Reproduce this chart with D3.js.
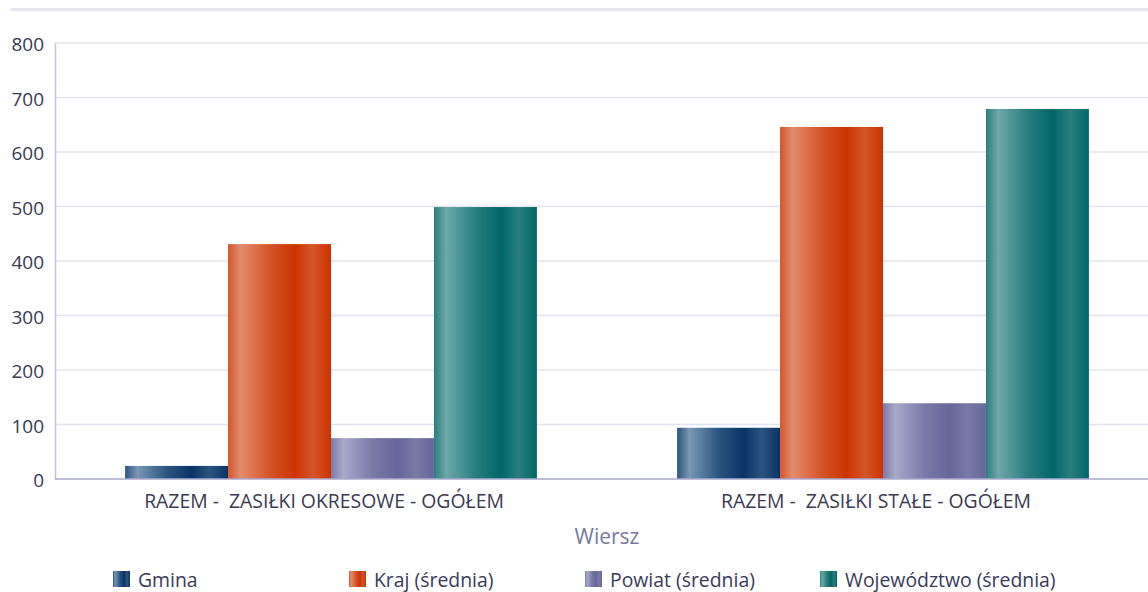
<!DOCTYPE html>
<html><head><meta charset="utf-8">
<script src="https://cdn.jsdelivr.net/npm/d3@7"></script>
<style>body{margin:0;background:#fff;}svg{display:block;font-family:"Open Sans",sans-serif;}</style>
</head><body>
<svg id="c" width="1148" height="592"></svg>
<script>
const categories = ["RAZEM -  ZASIŁKI OKRESOWE - OGÓŁEM", "RAZEM -  ZASIŁKI STAŁE - OGÓŁEM"];
const seriesNames = ["Gmina", "Kraj (średnia)", "Powiat (średnia)", "Województwo (średnia)"];
const gmina = [24, 94];
const kraj = [431, 646];
const powiat = [75, 139];
const wojewodztwo = [499, 679];
const yTicks = [0, 100, 200, 300, 400, 500, 600, 700, 800];
const xTitle = "Wiersz";

(function(){
const seriesValues = [gmina, kraj, powiat, wojewodztwo];
const palettes = [
  {base:"#0a3366", light:"#7a97b3", mid:"#2b5580"},
  {base:"#cc3300", light:"#e28c6e", mid:"#d4552a"},
  {base:"#66669a", light:"#a9a9c9", mid:"#7a7aa8"},
  {base:"#006666", light:"#6ea8a8", mid:"#2a7e7e"}
];

const svg = d3.select("#c");
const defs = svg.append("defs");
palettes.forEach((p,i)=>{
  const g = defs.append("linearGradient").attr("id","g"+i).attr("x1","0%").attr("x2","100%").attr("y1","0%").attr("y2","0%");
  [[0,p.mid],[0.12,p.light],[0.4,p.mid],[0.65,p.base],[0.82,p.mid],[1,p.base]].forEach(s=>{
    g.append("stop").attr("offset",(s[0]*100)+"%").attr("stop-color",s[1]);
  });
});

const mLeft = 55, mRight = 1159, mTop = 43, mBottom = 479;
const y = d3.scaleLinear().domain([0,800]).range([mBottom, mTop]);
const x0 = d3.scaleBand().domain(categories).range([mLeft, mRight]).paddingInner(0.254).paddingOuter(0.127);
const x1 = d3.scaleBand().domain(seriesNames).range([0, x0.bandwidth()]).padding(0);

svg.append("rect").attr("x",11).attr("y",8).attr("width",1137).attr("height",3).attr("fill","#e6e6ee");

svg.append("g").selectAll("line").data(yTicks.filter(d=>d>0)).join("line")
  .attr("x1",mLeft).attr("x2",1148).attr("y1",d=>y(d)).attr("y2",d=>y(d))
  .attr("stroke","#e4e4ee").attr("stroke-width",1.5);

const yAxis = svg.append("g").attr("transform",`translate(${mLeft},0)`)
  .call(d3.axisLeft(y).tickValues(yTicks).tickSize(0).tickPadding(11));
yAxis.attr("font-size",null).attr("font-family",null);
yAxis.select(".domain").attr("stroke","#c4c4dc").attr("stroke-width",1.5);
yAxis.selectAll("text").style("font-size","19px").attr("fill","#3a3a50").attr("dy","0.42em");

const groups = svg.append("g").selectAll("g").data(categories).join("g")
  .attr("transform",d=>`translate(${x0(d)},0)`);
groups.selectAll("rect").data((c,ci)=>seriesNames.map((s,si)=>({s,si,v:seriesValues[si][ci]}))).join("rect")
  .attr("x",d=>x1(d.s)).attr("width",x1.bandwidth())
  .attr("y",d=>y(d.v)).attr("height",d=>mBottom-y(d.v))
  .attr("fill",d=>`url(#g${d.si})`);

const xAxis = svg.append("g").attr("transform",`translate(0,${mBottom})`)
  .call(d3.axisBottom(x0).tickSize(0).tickPadding(15));
xAxis.attr("font-size",null).attr("font-family",null);
xAxis.select(".domain").attr("stroke","#a8a8cc").attr("stroke-width",1.5).attr("d",`M${mLeft},0H1148`);
xAxis.selectAll("text").style("font-size","19.4px").style("white-space","pre").attr("fill","#3a3a50").attr("dx",-7);

svg.append("text").attr("x",607).attr("y",544).attr("text-anchor","middle")
  .style("font-size","21px").attr("fill","#7878a0").text(xTitle);

const legX = [113, 349, 585, 820];
const leg = svg.append("g").selectAll("g").data(seriesNames).join("g")
  .attr("transform",(d,i)=>`translate(${legX[i]},571)`);
leg.append("rect").attr("width",17).attr("height",16).attr("fill",(d,i)=>`url(#g${i})`);
leg.append("text").attr("x",25).attr("y",16).style("font-size","19.4px").attr("fill","#3a3a5a").text(d=>d);
})();
</script>
</body></html>
